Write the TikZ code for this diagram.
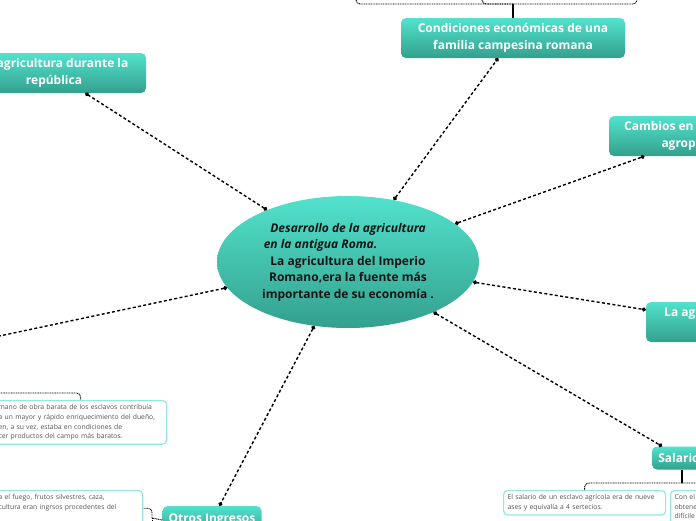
\documentclass[tikz,border=0pt]{standalone}
\usepackage{fontspec}
\setmainfont{Open Sans}
\usetikzlibrary{arrows.meta,shapes.geometric,positioning}
\definecolor{tealtop}{HTML}{52E2CD}
\definecolor{tealbot}{HTML}{33A08D}
\definecolor{noteline}{HTML}{8EEBDC}
\definecolor{notetext}{HTML}{555555}
\definecolor{coretext}{HTML}{151515}

\begin{document}
\begin{tikzpicture}[x=1pt,y=-1pt,
    topic/.style={rectangle,rounded corners=5pt,top color=tealtop,bottom color=tealbot,
        text=white,font=\bfseries\fontsize{12}{16.5}\selectfont,align=center,inner sep=0pt},
    note/.style={rectangle,rounded corners=4pt,draw=noteline,line width=1.2pt,fill=white,
        text=notetext,font=\fontsize{6.8}{9.6}\selectfont,align=left,inner xsep=4pt,inner ysep=4pt},
    link/.style={line width=1.4pt,dash pattern=on 3pt off 2.3pt,{Circle[length=4pt]}-{Circle[length=4pt]}},
    bracket/.style={line width=0.9pt,dash pattern=on 1pt off 0.7pt,rounded corners=4pt},
    stem/.style={line width=1.2pt}]
                        \useasboundingbox (0,0) rectangle (696,520);
                        \clip (0,0) rectangle (696,520);

                        \node[ellipse,minimum width=262pt,minimum height=132pt,inner sep=0pt,
                            top color=tealtop,bottom color=tealbot,text=coretext,align=center,
                            font=\bfseries\fontsize{12}{16.5}\selectfont] (core) at (348,262)
                            {\itshape Desarrollo de la agricultura\\
                             \itshape en la antigua Roma.\hspace*{55pt}\mbox{}\\
                             \upshape La agricultura del Imperio\\
                             Romano,era la fuente más\\
                             importante de su economía .};

                        \node[topic,minimum width=224pt,minimum height=40pt] (econ) at (513,38)
                            {Condiciones económicas de una\\familia campesina romana};
                        \node[topic,minimum width=184pt,minimum height=40pt] (repub) at (54,73)
                            {La agricultura durante la\\república};
                        \node[topic,minimum width=184pt,minimum height=40pt] (change) at (701,136)
                            {Cambios en la producción\\agropecuaria};
                        \node[topic,minimum width=152pt,minimum height=40pt] (empire) at (722,322)
                            {La agricultura en el\\Imperio};
                        \node[topic,minimum width=60pt,minimum height=23pt] (pay) at (682,458)
                            {Salarios};
                        \node[topic,minimum width=99pt,minimum height=28pt] (extra) at (212,520)
                            {Otros Ingresos};
                        \coordinate (west) at (-10,338);

                        \draw[link] (core) -- (econ);
                        \draw[link] (core) -- (repub);
                        \draw[link] (core) -- (change);
                        \draw[link] (core) -- (empire);
                        \draw[link] (core) -- (pay);
                        \draw[link] (core) -- (extra);
                        \draw[link] (core) -- (west);

                        \node[note,anchor=north west,text width=164pt] (slaves) at (-6,400)
                            {mano de obra barata de los esclavos contribuía\\
                             a un mayor y rápido enriquecimiento del dueño,\\
                             en, a su vez, estaba en condiciones de\\
                             cer productos del campo más baratos.};
                        \node[note,anchor=north west,text width=140pt] (wild) at (-6,490)
                            {a el fuego, frutos silvestres, caza,\\
                             cultura eran ingrsos procedentes del\\ \strut};
                        \node[note,anchor=north west,text width=154pt] (wage) at (503,490)
                            {El salario de un esclavo agrícola era de nueve\\
                             ases y equivalía a 4 sertecios.};
                        \node[note,anchor=north west,text width=80pt] (wage2) at (670,490)
                            {Con el\\obtene\\difícile\\ \strut};

                        \coordinate (econjoin) at (513,4);
                        \coordinate (up1) at (356,-8);
                        \coordinate (up2) at (482,-8);
                        \coordinate (up3) at (637,-8);
                        \draw[stem] (econ.north) -- (econjoin);
                        \draw[bracket] (econjoin) -| (up1);
                        \draw[bracket] (econjoin) -| (up2);
                        \draw[bracket] (econjoin) -| (up3);

                        \coordinate (payjoin) at (682,483);
                        \draw[stem] (pay.south) -- (payjoin);
                        \draw[bracket] (payjoin) -| (wage.north);
                        \draw[bracket] (payjoin) -| (wage2.north);

                        \coordinate (slavesin) at (-6,393);
                        \draw[bracket] (slavesin) -| (slaves.north);

                        \coordinate (extrajoin) at (152,518);
                        \coordinate (extradown) at (152,532);
                        \draw[bracket] (extra.west) -- (extrajoin);
                        \draw[bracket] (extrajoin) |- (wild.east);
                        \draw[bracket] (extrajoin) -- (extradown);
                    \end{tikzpicture}
\end{document}
